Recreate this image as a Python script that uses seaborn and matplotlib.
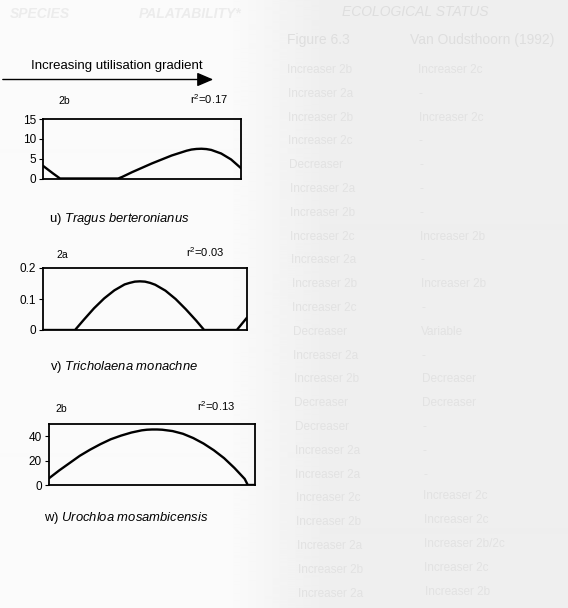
import matplotlib
matplotlib.use("Agg")
import matplotlib.pyplot as plt
from matplotlib.patches import FancyArrowPatch
import seaborn as sns
import pandas as pd
import numpy as np

sns.set_theme(style="white")
plt.rcParams['font.family'] = ['Liberation Sans', 'DejaVu Sans']
plt.rcParams['mathtext.fontset'] = 'custom'
plt.rcParams['mathtext.rm'] = 'Liberation Sans'
plt.rcParams['mathtext.it'] = 'Liberation Sans:italic'
plt.rcParams['text.color'] = 'black'
plt.rcParams['ytick.color'] = 'black'

# ---- data ----
x_tragus = [0, 5, 8.6, 10, 15, 20, 25, 30, 35, 38, 40, 45, 50, 55, 60, 65, 70, 72.5, 75, 77.5, 80, 82.5, 85, 90, 95, 100]
y_tragus = [3.2, 1.3, 0, 0, 0, 0, 0, 0, 0, 0, 0.4, 1.6, 2.7, 3.8, 4.8, 5.8, 6.6, 7.0, 7.3, 7.45, 7.5, 7.42, 7.2, 6.3, 4.8, 2.6]

x_trich = [0, 5, 10, 15.7, 20, 25, 30, 35, 40, 42.5, 45, 47.5, 50, 52.5, 55, 60, 65, 70, 75, 79, 85, 90, 95, 100]
y_trich = [0, 0, 0, 0, 0.033, 0.070, 0.102, 0.128, 0.147, 0.152, 0.156, 0.157, 0.156, 0.152, 0.146, 0.127, 0.100, 0.067, 0.031, 0, 0, 0, 0, 0.04]

x_uro = [0, 5, 10, 15, 20, 25, 30, 35, 40, 45, 47.5, 50, 52.5, 55, 60, 65, 70, 75, 80, 85, 90, 95, 96.5, 100]
y_uro = [5.5, 12, 18, 24, 29, 33.5, 37.5, 40.5, 43, 44.8, 45.3, 45.5, 45.5, 45.3, 44.2, 42, 38.5, 34, 28.5, 22, 14, 5, 0, 0]

panels = [
    dict(x=x_tragus, y=y_tragus, ylim=(0, 15), yticks=[0, 5, 10, 15], ylabels=["0", "5", "10", "15"],
         group="2b", r2="0.17", prefix="u) ", species="Tragus berteronianus"),
    dict(x=x_trich, y=y_trich, ylim=(0, 0.2), yticks=[0, 0.1, 0.2], ylabels=["0", "0.1", "0.2"],
         group="2a", r2="0.03", prefix="v) ", species="Tricholaena monachne"),
    dict(x=x_uro, y=y_uro, ylim=(0, 50), yticks=[0, 20, 40], ylabels=["0", "20", "40"],
         group="2b", r2="0.13", prefix="w) ", species="Urochloa mosambicensis"),
]

# faint bleed-through of the table printed on the other side of the page
ghost_fig63 = ["Increaser 2b", "Increaser 2a", "Increaser 2b", "Increaser 2c", "Decreaser",
               "Increaser 2a", "Increaser 2b", "Increaser 2c", "Increaser 2a", "Increaser 2b",
               "Increaser 2c", "Decreaser", "Increaser 2a", "Increaser 2b", "Decreaser",
               "Decreaser", "Increaser 2a", "Increaser 2a", "Increaser 2c", "Increaser 2b",
               "Increaser 2a", "Increaser 2b", "Increaser 2a"]
ghost_vo = ["Increaser 2c", "-", "Increaser 2c", "-", "-", "-", "-", "Increaser 2b", "-",
            "Increaser 2b", "-", "Variable", "-", "Decreaser", "Decreaser", "-", "-", "-",
            "Increaser 2c", "Increaser 2c", "Increaser 2b/2c", "Increaser 2c", "Increaser 2b"]

W, H = 568, 608
fig = plt.figure(figsize=(W / 100, H / 100), dpi=100)
fig.patch.set_facecolor("#fafafa")

def fx(px):
    return px / W

def fy(py):
    return 1 - py / H

# soft grey tone of the scanned page, darker towards the right
bg = fig.add_axes([0, 0, 1, 1], zorder=-10)
cols = np.arange(W)
tone = np.clip((cols - 230) / 90.0, 0, 1)
shade = 0.982 - 0.045 * tone
bg.imshow(np.tile(shade, (2, 1)), cmap="gray", vmin=0, vmax=1, aspect="auto",
          extent=[0, 1, 0, 1], interpolation="bilinear")
bg.set_axis_off()

ghost = "#e2e2e2"
fig.text(fx(40), fy(14), "SPECIES", ha="center", va="center", fontsize=10, color="#ececec",
         fontweight="bold", style="italic")
fig.text(fx(190), fy(14), "PALATABILITY*", ha="center", va="center", fontsize=10, color="#ececec",
         fontweight="bold", style="italic")
fig.text(fx(415), fy(12), "ECOLOGICAL STATUS", ha="center", va="center", fontsize=10, color="#dedede",
         style="italic")
fig.text(fx(318), fy(40), "Figure 6.3", ha="center", va="center", fontsize=10, color="#dedede")
fig.text(fx(482), fy(40), "Van Oudsthoorn (1992)", ha="center", va="center", fontsize=10, color="#dedede")
for i, (a, b) in enumerate(zip(ghost_fig63, ghost_vo)):
    yy = 70 + i * 23.8
    fig.text(fx(287 + i * 0.5), fy(yy), a, ha="left", va="center", fontsize=8.5, color=ghost)
    fig.text(fx(418 + i * 0.3), fy(yy - (2 if i > 17 else 0)), b, ha="left", va="center", fontsize=8.5, color=ghost)

# axes boxes in pixels: left, top, right, bottom
boxes = [(43, 119, 241, 178.5), (43, 268, 247, 330), (49, 424, 255, 485)]
group_pos = [(64, 101), (62, 255), (61, 409)]
r2_pos = [(209, 99), (205, 252), (216, 406)]
title_pos = [(119, 219), (124, 367), (126.5, 518)]

for p, (l, t, r, b), gp, rp, tp in zip(panels, boxes, group_pos, r2_pos, title_pos):
    ax = fig.add_axes([fx(l), fy(b), fx(r - l), (b - t) / H])
    df = pd.DataFrame({"x": p["x"], "y": p["y"]})
    sns.lineplot(data=df, x="x", y="y", ax=ax, color="black", linewidth=1.7)
    ax.set_xlim(0, 100)
    ax.set_ylim(*p["ylim"])
    ax.set_yticks(p["yticks"])
    ax.set_yticklabels(p["ylabels"], fontsize=8.5)
    ax.set_xticks([])
    ax.set_xlabel("")
    ax.set_ylabel("")
    ax.tick_params(axis="y", left=True, length=3, width=0.8, pad=2, colors="black")
    for s in ax.spines.values():
        s.set_color("black")
        s.set_linewidth(1.3)
    ax.set_facecolor("none")
    fig.text(fx(gp[0]), fy(gp[1]), p["group"], ha="center", va="center", fontsize=7.5)
    fig.text(fx(rp[0]), fy(rp[1]), r"r$^2$=" + p["r2"], ha="center", va="center", fontsize=8)
    fig.text(fx(tp[0]), fy(tp[1]), p["prefix"] + r"$\it{" + p["species"].replace(" ", r"\ ") + "}$",
             ha="center", va="center", fontsize=9.4)

# gradient arrow and label
fig.text(fx(117), fy(66), "Increasing utilisation gradient", ha="center", va="center", fontsize=9.5)
fig.patches.append(FancyArrowPatch(
    (fx(0), fy(79.5)), (fx(216), fy(79.5)), transform=fig.transFigure,
    arrowstyle="-|>,head_length=0.7,head_width=0.3", mutation_scale=14,
    color="black", linewidth=1.0))

fig.savefig("out.png", dpi=100, facecolor=fig.get_facecolor())
